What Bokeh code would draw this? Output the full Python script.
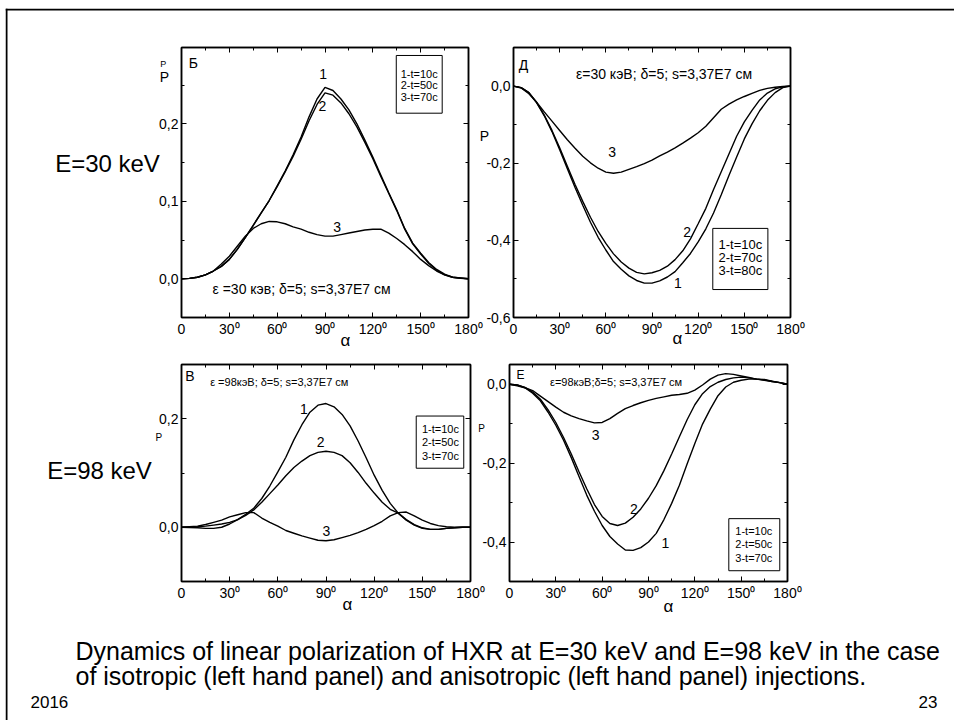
from bokeh.plotting import figure
from bokeh.models import Range1d, FixedTicker, LinearAxis, Label, BoxAnnotation, Span
from bokeh.layouts import row, column
from bokeh.embed import file_html
from bokeh.resources import INLINE

FONT = "Liberation Sans"

# pitch angle alpha, degrees
alpha = list(range(0, 181, 5))

# Panel "Б": E=30 keV, isotropic injection
b_t10 = [0.0, 0.0005, 0.002, 0.005, 0.010, 0.016, 0.025, 0.038, 0.053, 0.069, 0.085, 0.101,
         0.120, 0.139, 0.160, 0.183, 0.209, 0.232, 0.247, 0.243, 0.232, 0.218, 0.200, 0.179,
         0.157, 0.134, 0.111, 0.089, 0.065, 0.046, 0.033, 0.021, 0.012, 0.006, 0.002, 0.001, 0.0]
b_t50 = [0.0, 0.0005, 0.002, 0.005, 0.010, 0.016, 0.025, 0.038, 0.053, 0.069, 0.085, 0.101,
         0.119, 0.138, 0.158, 0.180, 0.204, 0.225, 0.240, 0.237, 0.227, 0.213, 0.196, 0.176,
         0.155, 0.132, 0.110, 0.088, 0.064, 0.045, 0.032, 0.020, 0.011, 0.005, 0.002, 0.001, 0.0]
b_t70 = [0.0, 0.0005, 0.002, 0.005, 0.010, 0.019, 0.029, 0.042, 0.055, 0.065, 0.071, 0.074,
         0.0735, 0.071, 0.067, 0.064, 0.060, 0.057, 0.055, 0.055, 0.057, 0.059, 0.061, 0.063,
         0.064, 0.064, 0.059, 0.052, 0.044, 0.035, 0.025, 0.017, 0.010, 0.005, 0.002, 0.0005, 0.0]

# Panel "Д": E=30 keV, anisotropic injection
d_t10 = [0.0, -0.004, -0.017, -0.043, -0.077, -0.118, -0.165, -0.214, -0.263, -0.309, -0.353,
         -0.392, -0.425, -0.455, -0.475, -0.492, -0.504, -0.511, -0.511, -0.505, -0.495, -0.481,
         -0.458, -0.434, -0.404, -0.370, -0.329, -0.282, -0.232, -0.184, -0.137, -0.098, -0.064,
         -0.037, -0.017, -0.004, 0.0]
d_t70 = [0.0, -0.004, -0.017, -0.042, -0.075, -0.115, -0.160, -0.208, -0.255, -0.299, -0.340,
         -0.377, -0.408, -0.435, -0.456, -0.472, -0.483, -0.487, -0.484, -0.478, -0.467, -0.450,
         -0.427, -0.396, -0.357, -0.317, -0.268, -0.222, -0.176, -0.130, -0.093, -0.063, -0.036,
         -0.018, -0.007, -0.002, 0.0]
d_t80 = [0.0, -0.005, -0.020, -0.042, -0.067, -0.091, -0.115, -0.139, -0.161, -0.182, -0.199,
         -0.213, -0.223, -0.226, -0.223, -0.216, -0.209, -0.201, -0.192, -0.181, -0.171, -0.160,
         -0.148, -0.135, -0.121, -0.104, -0.082, -0.060, -0.047, -0.036, -0.027, -0.019, -0.011,
         -0.006, -0.003, -0.001, 0.0]

# Panel "В": E=98 keV, isotropic injection
v_t10 = [0.0, -0.0005, -0.001, -0.002, -0.002, 0.0, 0.006, 0.014, 0.024, 0.035, 0.053, 0.076,
         0.102, 0.129, 0.161, 0.189, 0.212, 0.225, 0.228, 0.222, 0.208, 0.187, 0.159, 0.128,
         0.096, 0.068, 0.044, 0.026, 0.013, 0.004, -0.002, -0.004, -0.004, -0.002, -0.001, 0.0, 0.0]
v_t50 = [0.0, 0.0005, 0.001, 0.002, 0.004, 0.006, 0.009, 0.014, 0.022, 0.032, 0.046, 0.062,
         0.078, 0.095, 0.110, 0.122, 0.132, 0.138, 0.140, 0.138, 0.132, 0.119, 0.101, 0.081,
         0.063, 0.046, 0.033, 0.026, 0.014, 0.005, -0.001, -0.004, -0.004, -0.002, -0.001, 0.0, 0.0]
v_t70 = [0.0, 0.001, 0.002, 0.005, 0.009, 0.013, 0.019, 0.023, 0.027, 0.027, 0.017, 0.009,
         0.002, -0.006, -0.011, -0.016, -0.020, -0.024, -0.025, -0.023, -0.019, -0.015, -0.010,
         -0.004, 0.003, 0.011, 0.021, 0.027, 0.028, 0.021, 0.013, 0.007, 0.003, 0.001, 0.0, 0.0, 0.0]

# Panel "Е": E=98 keV, anisotropic injection
e_t10 = [0.0, -0.002, -0.009, -0.023, -0.042, -0.071, -0.104, -0.142, -0.186, -0.234, -0.281,
         -0.322, -0.358, -0.386, -0.405, -0.420, -0.421, -0.414, -0.400, -0.378, -0.343, -0.302,
         -0.256, -0.202, -0.150, -0.101, -0.063, -0.029, -0.007, 0.005, 0.010, 0.013, 0.013,
         0.012, 0.008, 0.004, 0.0]
e_t50 = [0.0, -0.002, -0.008, -0.020, -0.038, -0.065, -0.097, -0.135, -0.177, -0.222, -0.265,
         -0.305, -0.335, -0.353, -0.358, -0.352, -0.337, -0.316, -0.289, -0.257, -0.219, -0.177,
         -0.133, -0.090, -0.052, -0.024, -0.006, 0.005, 0.012, 0.016, 0.018, 0.016, 0.013,
         0.011, 0.007, 0.004, 0.0]
e_t70 = [0.0, -0.004, -0.009, -0.016, -0.030, -0.044, -0.058, -0.071, -0.080, -0.087, -0.093,
         -0.098, -0.097, -0.087, -0.074, -0.062, -0.054, -0.047, -0.041, -0.036, -0.032, -0.028,
         -0.026, -0.023, -0.015, -0.002, 0.013, 0.023, 0.027, 0.025, 0.021, 0.017, 0.013,
         0.010, 0.007, 0.004, 0.0]

x_ticks = [0, 30, 60, 90, 120, 150, 180]
x_minor = [15, 45, 75, 105, 135, 165]
x_tick_labels = ["0", "30\u2070", "60\u2070", "90\u2070", "120\u2070", "150\u2070", "180\u2070"]

b_yticks, b_yminor, b_ylabels = [0.0, 0.1, 0.2], [-0.05, 0.05, 0.15, 0.25], ["0,0", "0,1", "0,2"]
d_yticks, d_yminor, d_ylabels = [-0.6, -0.4, -0.2, 0.0], [-0.5, -0.3, -0.1, 0.1], ["-0,6", "-0,4", "-0,2", "0,0"]
v_yticks, v_yminor, v_ylabels = [0.0, 0.2], [-0.1, 0.1, 0.3], ["0,0", "0,2"]
e_yticks, e_yminor, e_ylabels = [-0.4, -0.2, 0.0], [-0.5, -0.3, -0.1], ["-0,4", "-0,2", "0,0"]

legend_b = ["1-t=10c", "2-t=50c", "3-t=70c"]
legend_d = ["1-t=10c", "2-t=70c", "3-t=80c"]
legend_v = ["1-t=10c", "2-t=50c", "3-t=70c"]
legend_e = ["1-t=10c", "2-t=50c", "3-t=70c"]

caption_1 = "Dynamics of linear polarization of HXR at E=30 keV and E=98 keV in the case"
caption_2 = "of isotropic (left hand panel) and anisotropic (left hand panel) injections."


def style_axis(ax, ticks, labels):
    ax.axis_line_color = "black"
    ax.axis_line_width = 1.5
    ax.major_tick_line_color = "black"
    ax.minor_tick_line_color = "black"
    ax.major_tick_in = 5
    ax.major_tick_out = 0
    ax.minor_tick_in = 3
    ax.minor_tick_out = 0
    ax.major_label_text_font = FONT
    ax.major_label_text_color = "black"
    ax.major_label_text_font_size = "14px"
    ax.major_label_standoff = 3
    if labels is None:
        ax.major_label_overrides = {t: "" for t in ticks}
    else:
        ax.major_label_overrides = dict(zip(ticks, labels))


def panel(width, height, borders, y_range, y_major, y_minor, y_labels):
    l, r, t, b = borders
    p = figure(width=width, height=height, x_range=Range1d(0, 180), y_range=Range1d(*y_range),
               output_backend="svg", toolbar_location=None, x_axis_location=None,
               y_axis_location=None, min_border_left=l, min_border_right=r,
               min_border_top=t, min_border_bottom=b, border_fill_color=None,
               background_fill_color="white", outline_line_color="black", outline_line_width=1.5)
    p.grid.visible = False
    xt = FixedTicker(ticks=x_ticks, minor_ticks=x_minor)
    yt = FixedTicker(ticks=y_major, minor_ticks=y_minor)
    for loc, ticker, ticks, labels in (("below", xt, x_ticks, x_tick_labels),
                                       ("above", xt, x_ticks, None),
                                       ("left", yt, y_major, y_labels),
                                       ("right", yt, y_major, None)):
        ax = LinearAxis(ticker=ticker)
        style_axis(ax, ticks, labels)
        p.add_layout(ax, loc)
    return p


def txt(p, x, y, s, size, align="center"):
    p.add_layout(Label(x=x, y=y, text=s, text_font=FONT, text_font_size=size,
                       text_color="black", text_align=align, text_baseline="middle"))


def legend_box(p, left, right, top, bottom, xc, ys, labels, size):
    p.add_layout(BoxAnnotation(left=left, right=right, top=top, bottom=bottom,
                               fill_color=None, line_color="black", line_alpha=1.0,
                               line_width=1.0))
    for yy, s in zip(ys, labels):
        txt(p, xc, yy, s, size)


def curves(p, series):
    for s in series:
        p.line(alpha, s, line_color="black", line_width=1.4)


# ---- top-left: panel Б
tl = panel(483, 347, (174, 22, 37, 40), (-0.05, 0.2985), b_yticks, b_yminor, b_ylabels)
curves(tl, [b_t10, b_t50, b_t70])
txt(tl, 7.5, 0.279, "Б", "14px")
txt(tl, 88.9, 0.2646, "1", "14px")
txt(tl, 88.3, 0.2236, "2", "14px")
txt(tl, 97.6, 0.0666, "3", "14px")
txt(tl, 75.3, -0.013, "\u03b5 =30 кэв; \u03b4=5; s=3,37E7 см", "14px")
legend_box(tl, 134.7, 163.5, 0.2882, 0.2137, 149.1, [0.2646, 0.2495, 0.2344], legend_b, "11px")

# ---- top-right: panel Д
tr = panel(482, 347, (41, 164, 34, 33), (-0.6, 0.1), d_yticks, d_yminor, d_ylabels)
tr.margin = (0, 0, 0, -18)
curves(tr, [d_t10, d_t70, d_t80])
txt(tr, 6.5, 0.055, "Д", "14px")
txt(tr, 97.8, 0.031, "\u03b5=30 кэВ; \u03b4=5; s=3,37E7 см", "14px")
txt(tr, 64.1, -0.172, "3", "14px")
txt(tr, 112.9, -0.3775, "2", "14px")
txt(tr, 106.8, -0.511, "1", "14px")
legend_box(tr, 129.5, 165.3, -0.369, -0.5275, 147.4, [-0.41, -0.444, -0.4775], legend_d, "13px")

# ---- bottom-left: panel В
bl = panel(483, 258, (174, 20, 5, 34), (-0.1, 0.3), v_yticks, v_yminor, v_ylabels)
curves(bl, [v_t10, v_t50, v_t70])
txt(bl, 5.2, 0.2794, "В", "14px")
txt(bl, 60.9, 0.267, "\u03b5 =98кэВ; \u03b4=5; s=3,37E7 см", "11px")
txt(bl, 76.2, 0.2173, "1", "14px")
txt(bl, 86.6, 0.1563, "2", "14px")
txt(bl, 90.3, -0.0068, "3", "14px")
legend_box(bl, 146.2, 175.8, 0.205, 0.1088, 161.3, [0.1807, 0.1575, 0.132], legend_v, "11px")

# ---- bottom-right: panel Е
br = panel(482, 258, (37, 167, 7, 29), (-0.5, 0.05), e_yticks, e_yminor, e_ylabels)
br.margin = (0, 0, 0, -18)
curves(br, [e_t10, e_t50, e_t70])
txt(br, 7.1, 0.0228, "Е", "12px")
txt(br, 69.0, 0.0062, "\u03b5=98кэВ;\u03b4=5; s=3,37E7 см", "11px")
txt(br, 55.7, -0.1283, "3", "14px")
txt(br, 80.5, -0.316, "2", "14px")
txt(br, 101.0, -0.4026, "1", "14px")
legend_box(br, 142.0, 175.0, -0.3407, -0.4727, 158.2, [-0.3712, -0.4041, -0.4398], legend_e, "11px")

# ---- slide overlay (page coordinates): frame lines, free texts, caption
ov = figure(width=954, height=720, x_range=Range1d(5, 954), y_range=Range1d(720, 8),
            output_backend="svg", toolbar_location=None, x_axis_location=None,
            y_axis_location=None, min_border_left=5, min_border_top=8, min_border_right=0,
            min_border_bottom=0, outline_line_color=None, border_fill_color=None,
            background_fill_color=None)
ov.grid.visible = False
ov.add_layout(Span(location=6, dimension="height", line_color="black", line_width=2))
ov.add_layout(Span(location=9, dimension="width", line_color="black", line_width=2))
txt(ov, 107, 163, "E=30 keV", "24px")
txt(ov, 99, 470, "E=98 keV", "24px")
txt(ov, 162.7, 63.3, "P", "9px")
txt(ov, 164, 76.7, "P", "14px")
txt(ov, 484, 135, "P", "14px")
txt(ov, 158.3, 436.7, "P", "10px")
txt(ov, 481, 428.3, "P", "10px")
txt(ov, 345, 340, "\u03b1", "17px")
txt(ov, 677, 338, "\u03b1", "17px")
txt(ov, 347, 604, "\u03b1", "17px")
txt(ov, 668, 606, "\u03b1", "17px")
txt(ov, 75, 650, caption_1, "25px", "left")
txt(ov, 75, 675, caption_2, "25px", "left")
txt(ov, 30, 701, "2016", "17px", "left")
txt(ov, 937, 701, "23", "17px", "right")

panels = column(row(tl, tr), row(bl, br))
panels.margin = (10, 0, 0, 7)
ov.margin = (-615, 0, 0, 0)
root = column(panels, ov)

open("out.html", "w").write(file_html(root, INLINE))
